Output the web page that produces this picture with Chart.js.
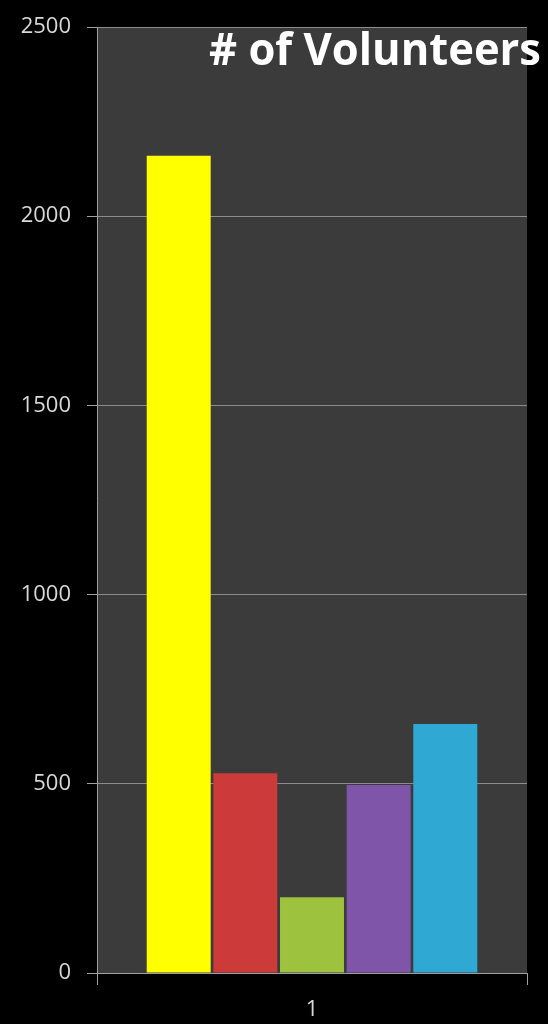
<!DOCTYPE html>
<html>
<head>
<meta charset="utf-8">
<script src="https://cdn.jsdelivr.net/npm/chart.js@4"></script>
<style>
  html, body { margin:0; padding:0; background:#000; }
  #wrap { width:548px; height:1024px; }
</style>
</head>
<body>
<div id="wrap"><canvas id="chart"></canvas></div>
<script>
const categories = ["1"];
const seriesNames = ["Group A", "Group B", "Group C", "Group D", "Group E"];
const yellowValues = [2160];
const redValues = [528];
const greenValues = [200];
const purpleValues = [497];
const cyanValues = [658];
const barColors = ["#ffff00", "#cc3a3a", "#9cc23e", "#7e55a8", "#2fa9d3"];
const yTicks = [0, 500, 1000, 1500, 2000, 2500];

const allValues = [yellowValues, redValues, greenValues, purpleValues, cyanValues];

// fill the plot area and write the title over it
const plotBg = {
  id: "plotBg",
  beforeDraw(chart) {
    const { ctx, chartArea: a } = chart;
    ctx.save();
    ctx.fillStyle = "#3b3b3b";
    ctx.fillRect(a.left, a.top, a.right - a.left, a.bottom - a.top);
    ctx.restore();
  },
  afterDraw(chart) {
    const { ctx } = chart;
    ctx.save();
    ctx.fillStyle = "#ffffff";
    ctx.font = "bold 44px 'Open Sans'";
    ctx.textAlign = "right";
    ctx.textBaseline = "alphabetic";
    ctx.fillText("# of Volunteers", 541, 65, 332);
    ctx.restore();
  }
};

new Chart(document.getElementById("chart"), {
  type: "bar",
  data: {
    labels: categories,
    datasets: allValues.map((vals, i) => ({
      label: seriesNames[i],
      data: vals,
      backgroundColor: barColors[i],
      borderWidth: 0,
      categoryPercentage: 0.775,
      barPercentage: 0.96
    }))
  },
  options: {
    responsive: true,
    maintainAspectRatio: false,
    animation: false,
    layout: { padding: { top: 12, right: 21, left: 0, bottom: 0 } },
    plugins: { legend: { display: false }, tooltip: { enabled: false } },
    scales: {
      y: {
        min: 0, max: 2500,
        afterBuildTicks: s => { s.ticks = yTicks.map(v => ({ value: v })); },
        afterFit: s => { s.width = 97; },
        border: { color: "#a0a0a0", width: 1 },
        grid: { color: "#8c8c8c", lineWidth: 1, tickLength: 10, tickColor: "#a0a0a0" },
        ticks: {
          color: "#d8d8d8",
          font: { family: "'Open Sans'", size: 22, lineHeight: 1 },
          padding: 16,
          callback: v => String(v)
        }
      },
      x: {
        afterFit: s => { s.height = 51; },
        border: { color: "#a0a0a0", width: 1 },
        grid: { drawOnChartArea: false, tickLength: 12, color: "#a0a0a0" },
        ticks: { color: "#d8d8d8", font: { family: "'Open Sans'", size: 22 }, padding: 12 }
      }
    }
  },
  plugins: [plotBg]
});
</script>
</body>
</html>
